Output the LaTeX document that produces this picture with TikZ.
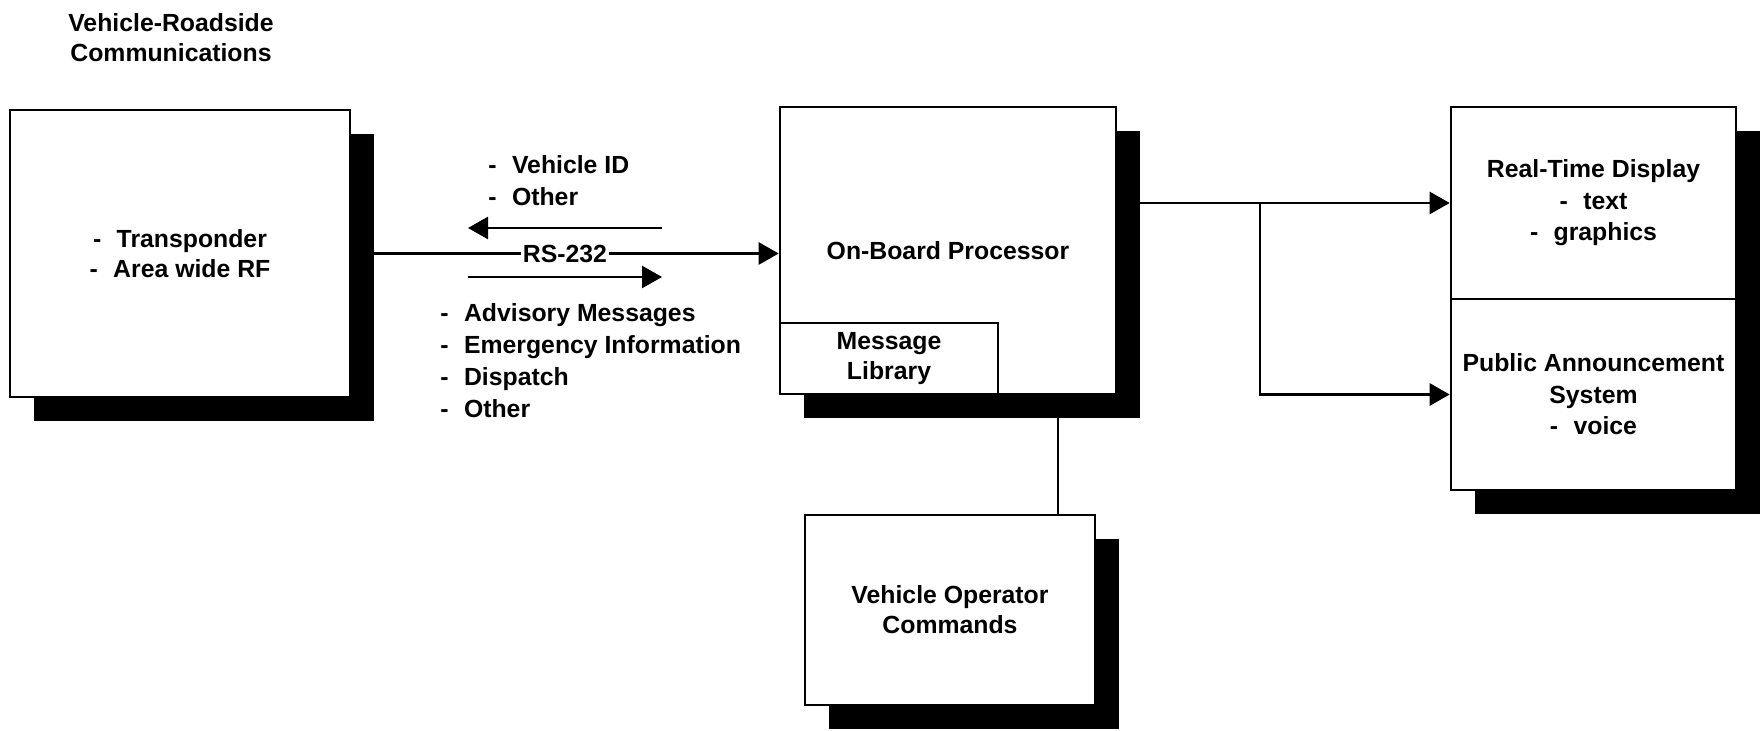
\documentclass[tikz,border=0pt]{standalone}
\usepackage{fontspec}
\newfontfamily\dfont{Liberation Sans Bold}
\usetikzlibrary{shadows,arrows.meta}
\tikzset{
  base/.style={draw, line width=1.3pt, fill=white, inner sep=0pt, align=center,
    font=\dfont\fontsize{12.4}{15}\selectfont},
  box/.style={base, drop shadow={shadow xshift=12pt, shadow yshift=-12pt, fill=black, opacity=1}},
  rbox/.style={box, font=\dfont\fontsize{12.4}{15.7}\selectfont},
  conn/.style={line width=1.3pt},
  arr/.style={conn, -{Triangle[length=10pt,width=11pt]}},
  lbl/.style={inner sep=0pt, align=left, font=\dfont\fontsize{12.4}{16}\selectfont},
  ttl/.style={inner sep=0pt, align=center, font=\dfont\fontsize{12.4}{15}\selectfont}
}
\newcommand{\dsh}{-\hspace{0.62em}}
\begin{document}
\begin{tikzpicture}[x=0.5pt,y=-0.5pt]
\useasboundingbox (0,0) rectangle (1762,731);
% title
\node[ttl] (title) at (171,38) {Vehicle-Roadside\\Communications};
% boxes
\node[box, minimum width=170pt, minimum height=143.5pt] (vrc) at (180,253.5)
  {\dsh Transponder\\\dsh Area wide RF};
\node[box, minimum width=168pt, minimum height=143.5pt] (obp) at (948,250.5)
  {On-Board Processor};
\node[base, minimum width=109pt, minimum height=35.5pt] (lib) at (889,358.5)
  {Message\\Library};
\node[box, minimum width=145pt, minimum height=95pt] (voc) at (950,610)
  {Vehicle Operator\\Commands};
\node[rbox, minimum width=142.5pt, minimum height=96pt] (rtd) at (1593.5,203)
  {Real-Time Display\\\dsh text\\\dsh graphics};
\node[rbox, minimum width=142.5pt, minimum height=95.5pt] (pas) at (1593.5,394.5)
  {Public Announcement\\System\\\dsh voice};
% coordinates
\coordinate (la1) at (662,228);
\coordinate (la2) at (468,228);
\coordinate (ra1) at (468,277);
\coordinate (ra2) at (662,277);
\coordinate (br) at (1260,203);
\coordinate (vx) at (1058,500);
% connectors
\draw[arr] (vrc.east) -- node[midway, fill=white, inner sep=1pt, font=\dfont\fontsize{12.4}{15}\selectfont] (rs) {RS-232} (vrc.east -| obp.west);
\draw[arr] (la1) -- (la2);
\draw[arr] (ra1) -- (ra2);
\draw[arr] (obp.east |- rtd.west) -- (rtd.west);
\draw[arr] (br) |- (pas.west);
\draw[conn] (obp.south -| vx) -- (voc.north -| vx);
% labels
\node[lbl, anchor=west] (up) at (488,181) {\dsh Vehicle ID\\\dsh Other};
\node[lbl, anchor=west] (down) at (440,361)
  {\dsh Advisory Messages\\\dsh Emergency Information\\\dsh Dispatch\\\dsh Other};
\end{tikzpicture}
\end{document}
